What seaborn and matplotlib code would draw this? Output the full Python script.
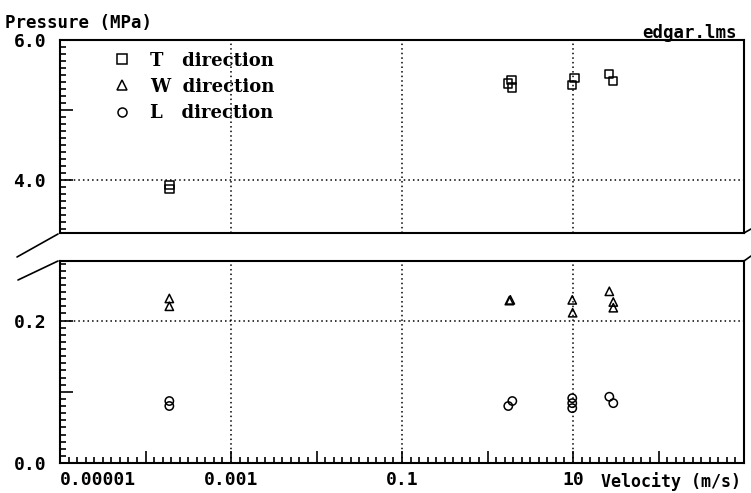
import numpy as np
import pandas as pd
import matplotlib.pyplot as plt
import matplotlib.ticker as mticker
from matplotlib.lines import Line2D
import seaborn as sns

# values (velocity in m/s, pressure in MPa)
t_vel = [1.9e-4, 1.9e-4, 1.75, 1.9, 1.95, 9.8, 10.4, 26.6, 29.6]
t_pres = [3.875, 3.93, 5.38, 5.43, 5.32, 5.36, 5.46, 5.51, 5.41]
w_vel = [1.9e-4, 1.9e-4, 1.8, 1.85, 9.8, 9.9, 26.6, 29.6, 29.6]
w_pres = [0.231, 0.220, 0.228, 0.229, 0.229, 0.211, 0.241, 0.226, 0.218]
l_vel = [1.9e-4, 1.9e-4, 1.75, 1.95, 9.8, 9.8, 9.8, 26.6, 29.6]
l_pres = [0.087, 0.080, 0.080, 0.087, 0.091, 0.084, 0.077, 0.093, 0.084]

x_ticks = [1e-5, 1e-4, 1e-3, 1e-2, 1e-1, 1, 10, 100, 1000]
x_tick_labels = ['0.00001', '', '0.001', '', '0.1', '', '10', '', '']
top_ticks = [4.0, 5.0, 6.0]
top_tick_labels = ['4.0', '', '6.0']
bot_ticks = [0.0, 0.1, 0.2]
bot_tick_labels = ['0.0', '', '0.2']

df = pd.concat([
    pd.DataFrame({'velocity': t_vel, 'pressure': t_pres, 'direction': 'T'}),
    pd.DataFrame({'velocity': w_vel, 'pressure': w_pres, 'direction': 'W'}),
    pd.DataFrame({'velocity': l_vel, 'pressure': l_pres, 'direction': 'L'}),
], ignore_index=True)
marker_map = {'T': 's', 'W': '^', 'L': 'o'}

sns.set_style('ticks')
plt.rcParams['font.family'] = ['DejaVu Sans Mono']
plt.rcParams.update({'text.color': 'black', 'xtick.color': 'black', 'ytick.color': 'black',
                     'xtick.labelcolor': 'black', 'ytick.labelcolor': 'black'})
mono = {'family': 'DejaVu Sans Mono', 'weight': 'bold', 'size': 12.5, 'color': 'black'}

W, H = 751, 493
fig = plt.figure(figsize=(W / 100, H / 100), dpi=100)
ax_top = fig.add_axes([60 / W, 1 - 233.3 / H, 684 / W, 193.3 / H])
ax_bot = fig.add_axes([60 / W, 1 - 463 / H, 684 / W, 202.3 / H])

for ax in (ax_top, ax_bot):
    sns.scatterplot(data=df, x='velocity', y='pressure', style='direction',
                    markers=marker_map, s=36, facecolor='none', edgecolor='black',
                    linewidth=1.1, legend=False, ax=ax, zorder=3)
    ax.set_xscale('log')
    ax.set_xlim(1e-5, 1e3)
    ax.set_xlabel('')
    ax.set_ylabel('')
    for sp in ax.spines.values():
        sp.set_visible(True)
        sp.set_color('black')
        sp.set_linewidth(1.5)
    for xv in (1e-3, 1e-1, 10):
        ax.axvline(xv, color='black', ls=(0, (1, 2)), lw=1.1, zorder=1)
    ax.yaxis.set_minor_locator(mticker.MultipleLocator(0.1 if ax is ax_top else 0.01))
    ax.tick_params(axis='y', which='major', left=True, direction='in', length=9, width=1.2,
                   color='black', labelcolor='black', pad=10, labelsize=13)
    ax.tick_params(axis='y', which='minor', left=True, direction='in', length=4, width=1.2,
                   color='black')

# top panel
ax_top.set_ylim(3.24, 6.0)
ax_top.yaxis.set_major_locator(mticker.FixedLocator(top_ticks))
ax_top.yaxis.set_major_formatter(mticker.FixedFormatter(top_tick_labels))
ax_top.axhline(4.0, color='black', ls=(0, (1, 2)), lw=1.1, zorder=1)
ax_top.tick_params(axis='x', which='both', bottom=False, length=0, labelbottom=False)

# bottom panel
ax_bot.set_ylim(0.0, 0.284)
ax_bot.yaxis.set_major_locator(mticker.FixedLocator(bot_ticks))
ax_bot.yaxis.set_major_formatter(mticker.FixedFormatter(bot_tick_labels))
ax_bot.axhline(0.2, color='black', ls=(0, (1, 2)), lw=1.1, zorder=1)
ax_bot.xaxis.set_major_locator(mticker.FixedLocator(x_ticks))
ax_bot.xaxis.set_major_formatter(mticker.FixedFormatter(x_tick_labels))
ax_bot.xaxis.set_minor_locator(mticker.FixedLocator(
    [10 ** (k + j / 10) for k in range(-5, 3) for j in range(1, 10)]))
ax_bot.xaxis.set_minor_formatter(mticker.NullFormatter())
ax_bot.tick_params(axis='x', which='major', bottom=True, direction='in', length=9, width=1.2,
                   color='black', labelcolor='black', pad=6, labelsize=13)
ax_bot.tick_params(axis='x', which='minor', bottom=True, direction='in', length=4, width=1.2,
                   color='black')
for lab in ax_bot.get_xticklabels():
    lab.set_fontweight('bold')
ax_bot.get_xticklabels()[0].set_ha('left')

for ax in (ax_top, ax_bot):
    for lab in ax.get_yticklabels():
        lab.set_fontweight('bold')

# legend
handles = [Line2D([], [], marker=marker_map[k], ls='none', mfc='none', mec='black',
                  ms=6.5, mew=1.1) for k in ['T', 'W', 'L']]
labels = ['T   direction', 'W  direction', 'L   direction']
leg = ax_top.legend(handles, labels, loc='upper left', bbox_to_anchor=(0.0775, 0.94),
                    frameon=False, borderaxespad=0, borderpad=0, handlelength=1.0,
                    handletextpad=1.05, labelspacing=0.45,
                    prop={'family': 'DejaVu Serif', 'weight': 'bold', 'size': 13})
for txt in leg.get_texts():
    txt.set_color('black')

# texts
fig.text(5 / W, 1 - 23 / H, 'Pressure (MPa)', ha='left', va='center', fontdict=mono)
fig.text(737 / W, 1 - 33 / H, 'edgar.lms', ha='right', va='center', fontdict=mono)
fig.text(741 / W, 1 - 482 / H, 'Velocity (m/s)', ha='right', va='center',
         fontdict={'family': 'DejaVu Sans Mono', 'weight': 'bold', 'size': 12, 'color': 'black'})

# axis break marks
for (x0, y0, x1, y1) in [(17, 257, 58, 234), (18, 280, 58, 261),
                         (744, 233, 751, 229), (744, 261, 751, 256)]:
    fig.add_artist(Line2D([x0 / W, x1 / W], [1 - y0 / H, 1 - y1 / H],
                          transform=fig.transFigure, color='black', lw=1.2))

fig.savefig('out.png', dpi=100)
